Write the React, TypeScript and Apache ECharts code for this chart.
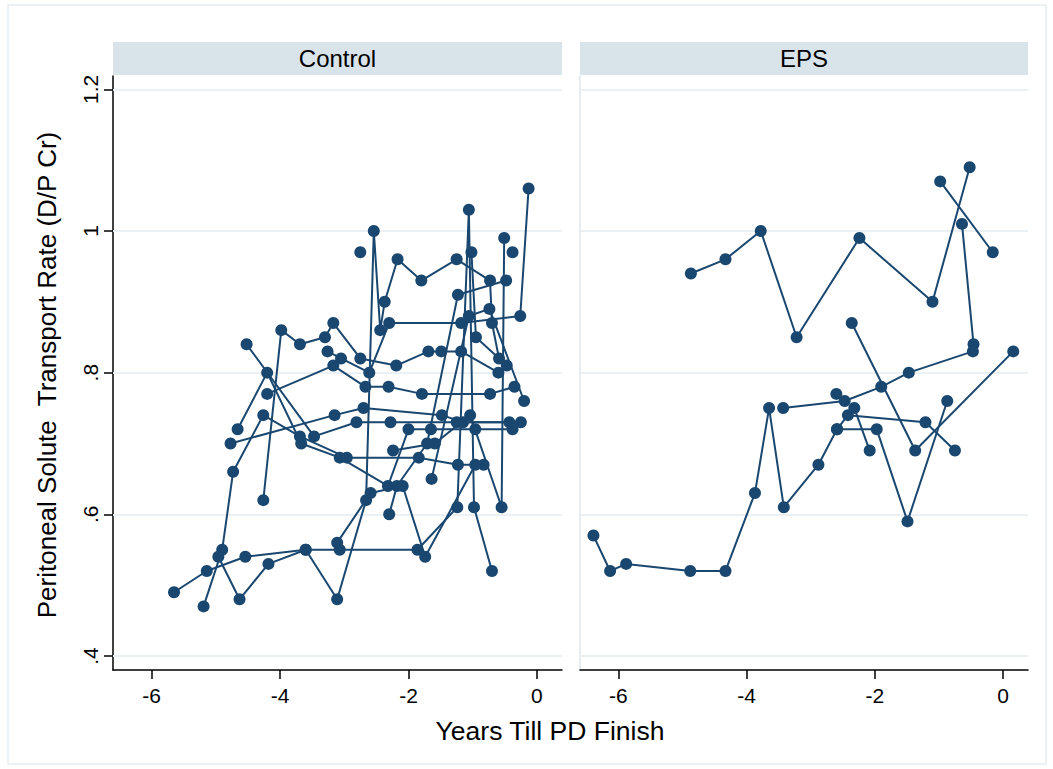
import React, { useEffect, useRef } from "react";
import * as echarts from "echarts";

// Years till PD finish (x) and D/P creatinine (y), one array per patient.
const control01 = [[-5.65, 0.49], [-5.14, 0.52], [-4.54, 0.54], [-3.6, 0.55], [-3.07, 0.55], [-1.86, 0.55], [-1.24, 0.61], [-1.06, 1.03], [-0.98, 0.61], [-0.7, 0.52]];
const control02 = [[-5.19, 0.47], [-4.9, 0.55], [-4.73, 0.66], [-4.26, 0.74], [-3.69, 0.71], [-2.96, 0.68], [-1.84, 0.68], [-1.23, 0.67], [-0.83, 0.67]];
const control03 = [[-4.96, 0.54], [-4.63, 0.48], [-4.18, 0.53], [-3.6, 0.55], [-3.11, 0.48], [-2.66, 0.62], [-2.54, 1.0], [-2.44, 0.86], [-2.37, 0.9], [-2.17, 0.96], [-1.8, 0.93], [-1.25, 0.96], [-0.73, 0.93], [-0.7, 0.87], [-0.59, 0.82]];
const control04 = [[-4.77, 0.7], [-3.15, 0.74], [-2.7, 0.75], [-1.48, 0.74], [-1.15, 0.73], [-0.43, 0.73]];
const control05 = [[-4.66, 0.72], [-4.2, 0.8], [-3.67, 0.7], [-3.07, 0.68], [-2.32, 0.64], [-2.0, 0.72], [-1.65, 0.72], [-0.96, 0.72], [-0.38, 0.72]];
const control06 = [[-4.52, 0.84], [-3.47, 0.71], [-2.81, 0.73], [-2.28, 0.73], [-1.25, 0.73], [-0.25, 0.73]];
const control07 = [[-4.26, 0.62], [-3.98, 0.86], [-3.69, 0.84], [-3.3, 0.85], [-3.17, 0.87], [-2.75, 0.82], [-2.19, 0.81], [-1.69, 0.83], [-1.49, 0.83], [-1.18, 0.83], [-0.6, 0.8]];
const control08 = [[-4.2, 0.77], [-3.17, 0.81], [-2.67, 0.78], [-2.31, 0.78], [-1.79, 0.77], [-0.73, 0.77], [-0.35, 0.78]];
const control09 = [[-3.26, 0.83], [-3.05, 0.82], [-2.61, 0.8], [-2.3, 0.87], [-1.18, 0.87], [-0.26, 0.88], [-0.13, 1.06]];
const control10 = [[-3.11, 0.56], [-2.59, 0.63], [-2.09, 0.64], [-1.74, 0.54], [-0.96, 0.67]];
const control11 = [[-2.3, 0.6], [-2.18, 0.64], [-1.71, 0.7], [-1.23, 0.91], [-0.48, 0.93]];
const control12 = [[-2.24, 0.69], [-1.59, 0.7], [-1.04, 0.74], [-0.55, 0.61], [-0.51, 0.99]];
const control13 = [[-1.64, 0.65], [-1.06, 0.88], [-0.74, 0.89], [-0.2, 0.76]];
const control14 = [[-1.02, 0.97], [-0.95, 0.85], [-0.47, 0.81]];
const control15 = [[-2.75, 0.97]];
const control16 = [[-0.38, 0.97]];

const eps01 = [[-4.87, 0.94], [-4.33, 0.96], [-3.78, 1.0], [-3.22, 0.85], [-2.24, 0.99], [-1.1, 0.9], [-0.52, 1.09]];
const eps02 = [[-0.98, 1.07], [-0.16, 0.97]];
const eps03 = [[-0.64, 1.01], [-0.46, 0.84]];
const eps04 = [[-6.39, 0.57], [-6.13, 0.52], [-5.88, 0.53], [-4.88, 0.52], [-4.33, 0.52], [-3.87, 0.63], [-3.65, 0.75], [-3.42, 0.61], [-2.88, 0.67], [-2.59, 0.72], [-1.97, 0.72], [-1.49, 0.59], [-0.87, 0.76]];
const eps05 = [[-3.43, 0.75], [-2.47, 0.76], [-1.9, 0.78], [-1.47, 0.8], [-0.47, 0.83]];
const eps06 = [[-2.36, 0.87], [-1.37, 0.69], [0.16, 0.83]];
const eps07 = [[-2.59, 0.72], [-2.42, 0.74], [-1.21, 0.73], [-0.75, 0.69]];
const eps08 = [[-2.32, 0.75], [-2.08, 0.69]];
const eps09 = [[-2.6, 0.77]];

const controlPatients = [control01, control02, control03, control04, control05, control06, control07, control08, control09, control10, control11, control12, control13, control14, control15, control16];
const epsPatients = [eps01, eps02, eps03, eps04, eps05, eps06, eps07, eps08, eps09];

const panelTitles = ["Control", "EPS"];
const xTicks = [-6, -4, -2, 0];
const yTicks = [0.4, 0.6, 0.8, 1.0, 1.2];
const xTitle = "Years Till PD Finish";
const yTitle = "Peritoneal Solute  Transport Rate (D/P Cr)";

const NAVY = "#1a476f";
const GRID = "#eaf0f4";
const STRIP = "#d8e4ea";
const FONT = "'Liberation Sans', Arial, Helvetica, sans-serif";

const X_MIN = -6.6;
const X_MAX = 0.39;
const Y_MIN = 0.3802;
const Y_MAX = 1.2188;

const panels = [
  { left: 113, width: 449 },
  { left: 580, width: 448 },
];
const TOP = 76;
const HEIGHT = 594;

function yFmt(v: number): string {
  const r = Math.round(v * 10) / 10;
  if (r === 1) return "1";
  return r.toFixed(1).replace(/^0/, "");
}

export default function App() {
  const ref = useRef<HTMLDivElement>(null);

  useEffect(() => {
    document.body.style.margin = "0";
    if (!ref.current) return;
    const chart = echarts.init(ref.current, undefined, { renderer: "svg" });

    const grids = panels.map((p) => ({ left: p.left, top: TOP, width: p.width, height: HEIGHT, containLabel: false }));

    const xAxes = panels.map((_, i) => ({
      type: "value",
      gridIndex: i,
      min: X_MIN,
      max: X_MAX,
      axisLine: { show: true, onZero: false, lineStyle: { color: "#000", width: 1.5 } },
      axisTick: { show: true, customValues: xTicks, length: 9, lineStyle: { color: "#000", width: 1.5 } },
      axisLabel: {
        show: true,
        customValues: xTicks,
        formatter: (v: number) => String(Math.round(v)),
        fontSize: 21,
        fontFamily: FONT,
        color: "#000",
        margin: 15,
      },
      splitLine: { show: false },
    }));

    const yAxes = panels.map((_, i) => ({
      type: "value",
      gridIndex: i,
      min: Y_MIN,
      max: Y_MAX,
      axisLine: {
        show: true,
        onZero: false,
        lineStyle: i === 0 ? { color: "#000", width: 1.5 } : { color: "#dfe6eb", width: 1.5 },
      },
      axisTick: { show: i === 0, customValues: yTicks, length: 9, lineStyle: { color: "#000", width: 1.5 } },
      axisLabel: {
        show: i === 0,
        customValues: yTicks,
        rotate: 90,
        formatter: (v: number) => yFmt(v),
        fontSize: 21,
        fontFamily: FONT,
        color: "#000",
        margin: 12,
      },
      splitLine: { show: false },
    }));

    // Horizontal gridlines at the labelled y ticks, kept underneath the data.
    const gridSeries = panels.map((_, i) => ({
      type: "line",
      xAxisIndex: i,
      yAxisIndex: i,
      data: [],
      z: 1,
      silent: true,
      markLine: {
        silent: true,
        z: 1,
        symbol: "none",
        label: { show: false },
        lineStyle: { color: GRID, width: 1.8, type: "solid" },
        data: yTicks.map((v) => ({ yAxis: v })),
      },
    }));

    const patientSeries = (list: number[][][], idx: number) =>
      list.map((pts) =>
        pts.length > 1
          ? {
              type: "line",
              xAxisIndex: idx,
              yAxisIndex: idx,
              data: pts,
              z: 3,
              symbol: "circle",
              symbolSize: 12,
              showSymbol: true,
              itemStyle: { color: NAVY, opacity: 1 },
              lineStyle: { color: NAVY, width: 2 },
              emphasis: { disabled: true },
            }
          : {
              type: "scatter",
              xAxisIndex: idx,
              yAxisIndex: idx,
              data: pts,
              z: 3,
              symbol: "circle",
              symbolSize: 12,
              itemStyle: { color: NAVY, opacity: 1 },
              emphasis: { disabled: true },
            }
      );

    const graphics: any[] = [
      {
        type: "rect",
        shape: { x: 8, y: 5, width: 1038, height: 759 },
        style: { fill: "none", stroke: "#e6edf2", lineWidth: 1.5 },
        silent: true,
      },
    ];
    panels.forEach((p, i) => {
      graphics.push({
        type: "rect",
        shape: { x: p.left, y: 42, width: p.width, height: 33 },
        style: { fill: STRIP },
        silent: true,
      });
      graphics.push({
        type: "text",
        x: p.left + p.width / 2,
        y: 58.5,
        style: {
          text: panelTitles[i],
          fontSize: 24,
          fontFamily: FONT,
          fill: "#000",
          align: "center",
          verticalAlign: "middle",
        },
        silent: true,
      });
    });
    graphics.push({
      type: "text",
      x: 550,
      y: 731,
      style: { text: xTitle, fontSize: 26.5, fontFamily: FONT, fill: "#000", align: "center", verticalAlign: "middle" },
      silent: true,
    });
    graphics.push({
      type: "text",
      x: 47,
      y: 375,
      rotation: Math.PI / 2,
      style: { text: yTitle, fontSize: 26, fontFamily: FONT, fill: "#000", align: "center", verticalAlign: "middle" },
      silent: true,
    });

    chart.setOption({
      animation: false,
      backgroundColor: "#fff",
      grid: grids,
      xAxis: xAxes,
      yAxis: yAxes,
      series: [...gridSeries, ...patientSeries(controlPatients, 0), ...patientSeries(epsPatients, 1)],
      graphic: graphics,
    });

    return () => chart.dispose();
  }, []);

  return <div ref={ref} style={{ width: 1053, height: 769 }} />;
}
